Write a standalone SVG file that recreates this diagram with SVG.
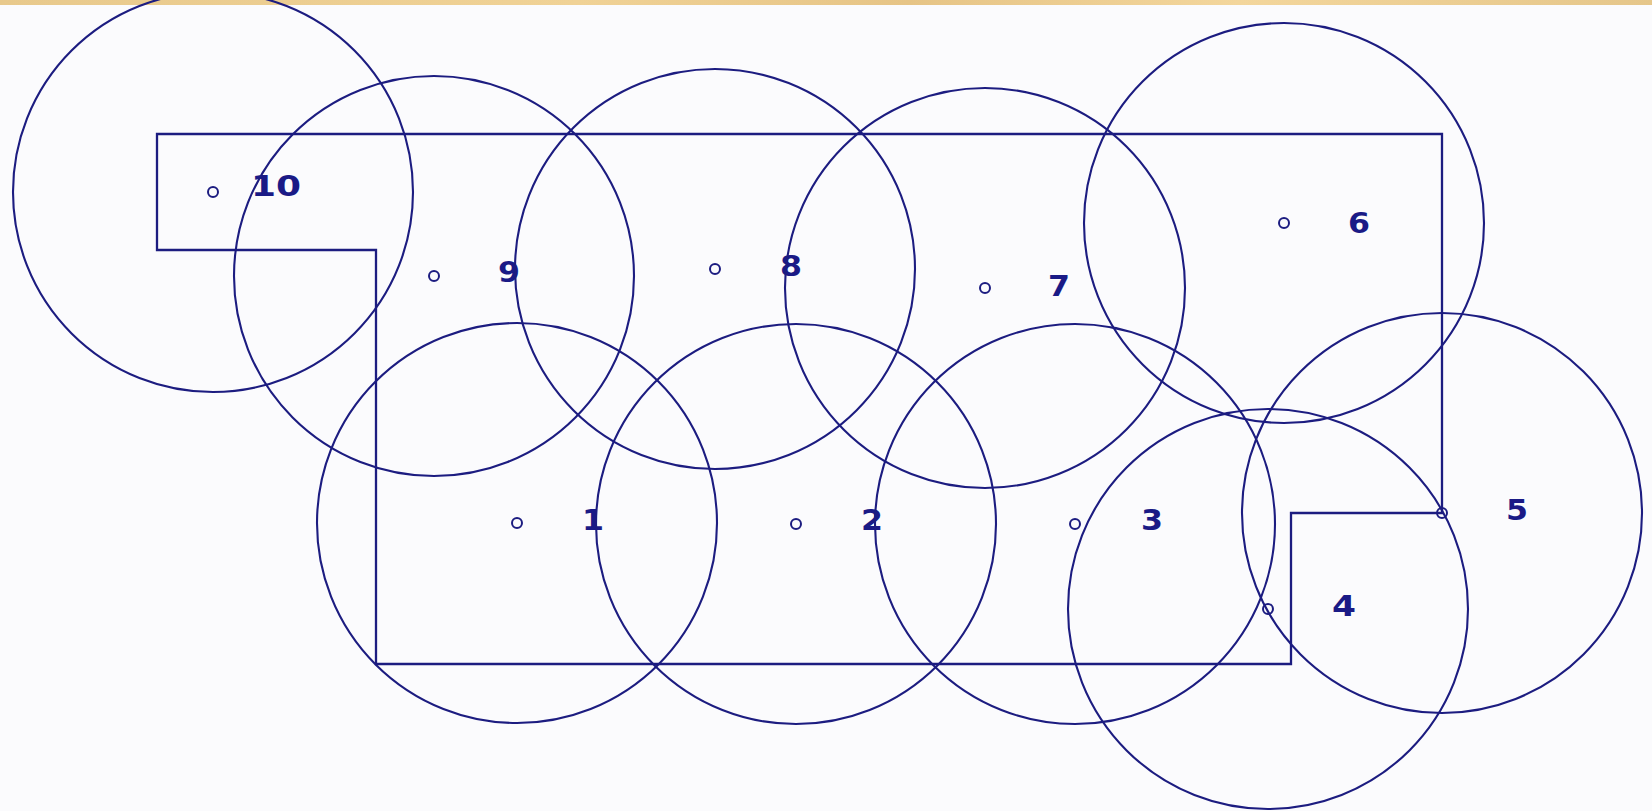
<svg xmlns="http://www.w3.org/2000/svg" width="1652" height="811" viewBox="0 0 1652 811">
<defs>
<linearGradient id="band" x1="0" y1="0" x2="1" y2="0">
<stop offset="0" stop-color="#e8c98c"/>
<stop offset="0.35" stop-color="#f0d296"/>
<stop offset="0.55" stop-color="#e6c486"/>
<stop offset="0.75" stop-color="#f3d69c"/>
<stop offset="1" stop-color="#e5c68a"/>
</linearGradient>
<style>
.cov{fill:none;stroke:#1c1c80;stroke-width:2.1}
.ctr{fill:none;stroke:#1c1c80;stroke-width:2}
.room{fill:none;stroke:#1c1c80;stroke-width:2.3}
.lbl{font-family:"DejaVu Sans","Liberation Sans",sans-serif;font-weight:bold;font-size:28px;fill:#1a1a86}
</style>
</defs>
<rect x="0" y="0" width="1652" height="811" fill="#fbfbfd"/>
<rect x="0" y="0" width="1652" height="5" fill="url(#band)"/>
<g id="room">
<polygon class="room" points="157,134 1442,134 1442,513 1291,513 1291,664 376,664 376,250 157,250"/>
</g>
<g id="node10"><circle class="cov" cx="213" cy="192" r="200"/><circle class="ctr" cx="213" cy="192" r="5"/><text class="lbl" x="251" y="196" textLength="50" lengthAdjust="spacingAndGlyphs">10</text></g>
<g id="node9"><circle class="cov" cx="434" cy="276" r="200"/><circle class="ctr" cx="434" cy="276" r="5"/><text class="lbl" x="498" y="282" textLength="22" lengthAdjust="spacingAndGlyphs">9</text></g>
<g id="node8"><circle class="cov" cx="715" cy="269" r="200"/><circle class="ctr" cx="715" cy="269" r="5"/><text class="lbl" x="780" y="276" textLength="22" lengthAdjust="spacingAndGlyphs">8</text></g>
<g id="node7"><circle class="cov" cx="985" cy="288" r="200"/><circle class="ctr" cx="985" cy="288" r="5"/><text class="lbl" x="1048" y="296" textLength="22" lengthAdjust="spacingAndGlyphs">7</text></g>
<g id="node6"><circle class="cov" cx="1284" cy="223" r="200"/><circle class="ctr" cx="1284" cy="223" r="5"/><text class="lbl" x="1348" y="233" textLength="22" lengthAdjust="spacingAndGlyphs">6</text></g>
<g id="node1"><circle class="cov" cx="517" cy="523" r="200"/><circle class="ctr" cx="517" cy="523" r="5"/><text class="lbl" x="582" y="530" textLength="22" lengthAdjust="spacingAndGlyphs">1</text></g>
<g id="node2"><circle class="cov" cx="796" cy="524" r="200"/><circle class="ctr" cx="796" cy="524" r="5"/><text class="lbl" x="861" y="530" textLength="22" lengthAdjust="spacingAndGlyphs">2</text></g>
<g id="node3"><circle class="cov" cx="1075" cy="524" r="200"/><circle class="ctr" cx="1075" cy="524" r="5"/><text class="lbl" x="1141" y="530" textLength="22" lengthAdjust="spacingAndGlyphs">3</text></g>
<g id="node4"><circle class="cov" cx="1268" cy="609" r="200"/><circle class="ctr" cx="1268" cy="609" r="5"/><text class="lbl" x="1332" y="616" textLength="24" lengthAdjust="spacingAndGlyphs">4</text></g>
<g id="node5"><circle class="cov" cx="1442" cy="513" r="200"/><circle class="ctr" cx="1442" cy="513" r="5"/><text class="lbl" x="1506" y="520" textLength="22" lengthAdjust="spacingAndGlyphs">5</text></g>
<g id="connectors"/>
</svg>
